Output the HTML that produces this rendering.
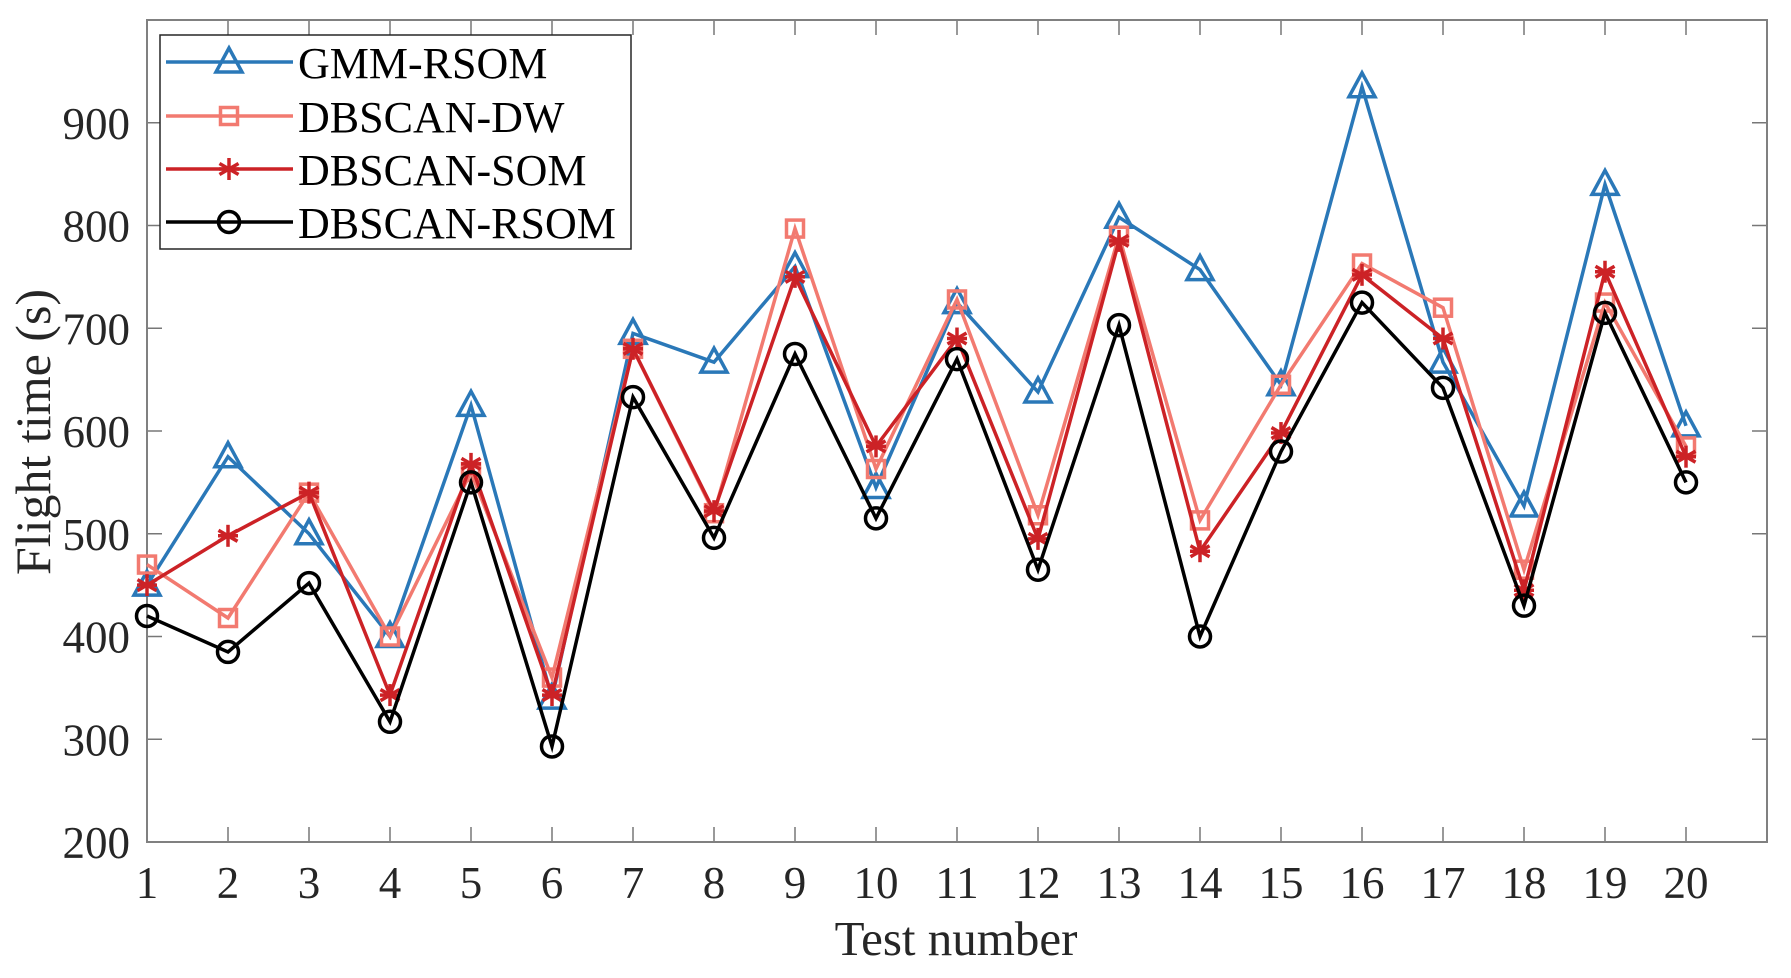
<!DOCTYPE html>
<html><head><meta charset="utf-8"><style>
html,body{margin:0;padding:0;background:#fff}
svg{display:block}
text{font-family:"Liberation Serif",serif}
</style></head><body>
<svg id="s" width="1791" height="978" viewBox="0 0 1791 978" xmlns="http://www.w3.org/2000/svg">
<rect width="1791" height="978" fill="#fff"/>
<g id="axes"></g>
<g id="series"></g>
<g id="legend"></g>
<text x="956" y="955" font-size="49" text-anchor="middle" fill="#262626">Test number</text>
<text x="0" y="0" font-size="50" text-anchor="middle" fill="#262626" transform="translate(50,432) rotate(-90)">Flight time (s)</text>
</svg>
<script>
const NS="http://www.w3.org/2000/svg";
function el(p,t,a,txt){const e=document.createElementNS(NS,t);for(const k in a)e.setAttribute(k,a[k]);if(txt!==undefined)e.textContent=txt;p.appendChild(e);return e;}
const L=147,R=1767,T=20,B=842;
const X=i=>L+(i-1)*81,Y=v=>B-(v-200)*1.0275;
const ax=document.getElementById('axes');
for(let i=1;i<=20;i++){const x=X(i);
 el(ax,'line',{x1:x,y1:B,x2:x,y2:B-15,stroke:'#777','stroke-width':1.5});
 el(ax,'line',{x1:x,y1:T,x2:x,y2:T+15,stroke:'#777','stroke-width':1.5});
 el(ax,'text',{x:x,y:898,'font-size':45,'text-anchor':'middle',fill:'#262626'},String(i));}
for(let v=200;v<=900;v+=100){const y=Y(v);
 el(ax,'line',{x1:L,y1:y,x2:L+15,y2:y,stroke:'#777','stroke-width':1.5});
 el(ax,'line',{x1:R,y1:y,x2:R-15,y2:y,stroke:'#777','stroke-width':1.5});
 el(ax,'text',{x:130,y:y+16,'font-size':45,'text-anchor':'end',fill:'#262626'},String(v));}
el(ax,'rect',{x:L,y:T,width:R-L,height:B-T,fill:'none',stroke:'#808080','stroke-width':2});
const data=[
 ['#2a78b8','tri',[450,575,500,400,625,340,695,667,760,545,725,638,808,757,645,935,667,527,840,605],'GMM-RSOM'],
 ['#f27a70','sq',[470,418,540,400,560,360,680,520,797,563,728,518,790,513,645,763,720,465,725,585],'DBSCAN-DW'],
 ['#cc2226','star',[450,498,540,343,568,343,680,522,750,585,690,495,785,483,598,752,690,445,755,575],'DBSCAN-SOM'],
 ['#000000','circ',[420,385,452,317,550,293,633,496,675,515,670,465,703,400,580,725,642,430,715,550],'DBSCAN-RSOM']];
function marker(g,type,x,y,c){
 if(type==='tri')el(g,'polygon',{points:`${x},${y-14} ${x-13},${y+10} ${x+13},${y+10}`,fill:'none',stroke:c,'stroke-width':3.5});
 else if(type==='sq')el(g,'rect',{x:x-8.5,y:y-8.5,width:17,height:17,fill:'none',stroke:c,'stroke-width':3.5});
 else if(type==='circ')el(g,'circle',{cx:x,cy:y,r:10.5,fill:'none',stroke:c,'stroke-width':3.5});
 else{const r=11;for(const a of [0,60,120]){const t=a*Math.PI/180;el(g,'line',{x1:x-r*Math.sin(t),y1:y-r*Math.cos(t),x2:x+r*Math.sin(t),y2:y+r*Math.cos(t),stroke:c,'stroke-width':3.5});}
  el(g,'line',{x1:x-10,y1:y,x2:x+10,y2:y,stroke:c,'stroke-width':3.5});}
}
const sg=document.getElementById('series');
for(const [c,m,d] of data){
 el(sg,'polyline',{points:d.map((v,i)=>X(i+1)+','+Y(v)).join(' '),fill:'none',stroke:c,'stroke-width':3.5,'stroke-linejoin':'miter'});
 d.forEach((v,i)=>marker(sg,m,X(i+1),Y(v),c));}
const lg=document.getElementById('legend');
el(lg,'rect',{x:160,y:35,width:471,height:214,fill:'#fff',stroke:'#262626','stroke-width':1.5});
const rows=[62,116,169,222];
data.forEach(([c,m,,name],k)=>{const y=rows[k];
 el(lg,'line',{x1:166,y1:y,x2:293,y2:y,stroke:c,'stroke-width':3.5});
 marker(lg,m,229,y,c);
 el(lg,'text',{x:298,y:y+16,'font-size':44,fill:'#000'},name);});
</script>
</body></html>
